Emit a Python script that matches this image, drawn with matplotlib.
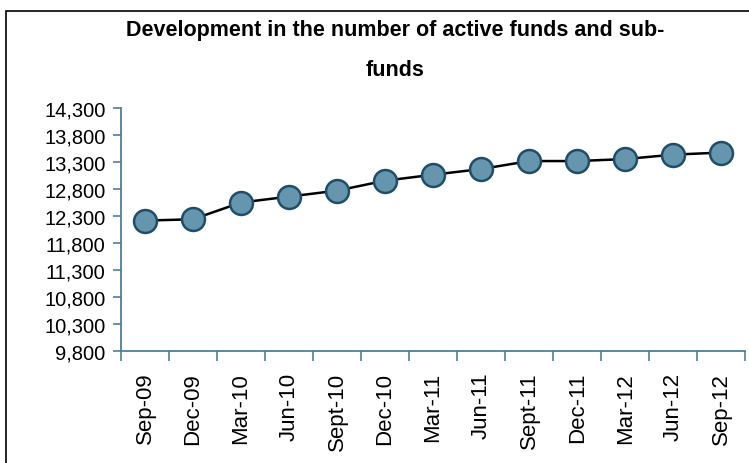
import matplotlib
matplotlib.use("Agg")
import matplotlib.pyplot as plt
from matplotlib.patches import Rectangle
from matplotlib.ticker import FuncFormatter, FixedLocator, NullFormatter
import numpy as np

quarters = ["Sep-09", "Dec-09", "Mar-10", "Jun-10", "Sept-10", "Dec-10", "Mar-11",
            "Jun-11", "Sept-11", "Dec-11", "Mar-12", "Jun-12", "Sep-12"]
funds = [12215, 12240, 12550, 12660, 12770, 12955, 13065,
         13170, 13318, 13318, 13355, 13437, 13475]
y_ticks = [9800, 10300, 10800, 11300, 11800, 12300, 12800, 13300, 13800, 14300]

axis_col = "#4d7f99"

fig = plt.figure(figsize=(7.49, 4.64), dpi=100)
ax = fig.add_axes([0.1615, 0.2414, 0.8335, 0.5236])

# outer frame of the chart
fig.patches.append(Rectangle((6 / 749, -0.01), 1.0, 1 - 12 / 464 + 0.01,
                             transform=fig.transFigure, fill=False,
                             edgecolor="black", linewidth=1.2))

x = np.arange(len(quarters))
ax.plot(x, funds, color="black", linewidth=1.8, marker="o", markersize=16.5,
        markerfacecolor="#6596ad", markeredgecolor="#1d4f6c", markeredgewidth=1.8,
        zorder=3)

ax.set_xlim(-0.5, len(quarters) - 0.5)
ax.set_ylim(9800, 14300)
ax.set_yticks(y_ticks)
ax.yaxis.set_major_formatter(FuncFormatter(lambda v, p: f"{int(v):,}"))
for lab in ax.get_yticklabels():
    lab.set_family("Liberation Sans")
    lab.set_fontsize(14.5)

ax.set_xticks(x)
ax.set_xticklabels(quarters, rotation=90, fontsize=16, family="Liberation Sans")
ax.xaxis.set_minor_locator(FixedLocator(np.arange(-0.5, len(quarters), 1.0)))
ax.xaxis.set_minor_formatter(NullFormatter())
ax.tick_params(axis="x", which="major", length=0, pad=15)
ax.tick_params(axis="x", which="minor", length=7, color=axis_col, width=1.2)
ax.tick_params(axis="y", length=6, color=axis_col, width=1.2, pad=5)

for side in ["top", "right"]:
    ax.spines[side].set_visible(False)
for side in ["left", "bottom"]:
    ax.spines[side].set_color(axis_col)
    ax.spines[side].set_linewidth(1.3)

fig.text(0.527, 0.935, "Development in the number of active funds and sub-",
         ha="center", va="center", fontsize=15.5, fontweight="bold", family="Liberation Sans")
fig.text(0.527, 0.848, "funds", ha="center", va="center",
         fontsize=15.5, fontweight="bold", family="Liberation Sans")

fig.savefig("out.png", dpi=100)
